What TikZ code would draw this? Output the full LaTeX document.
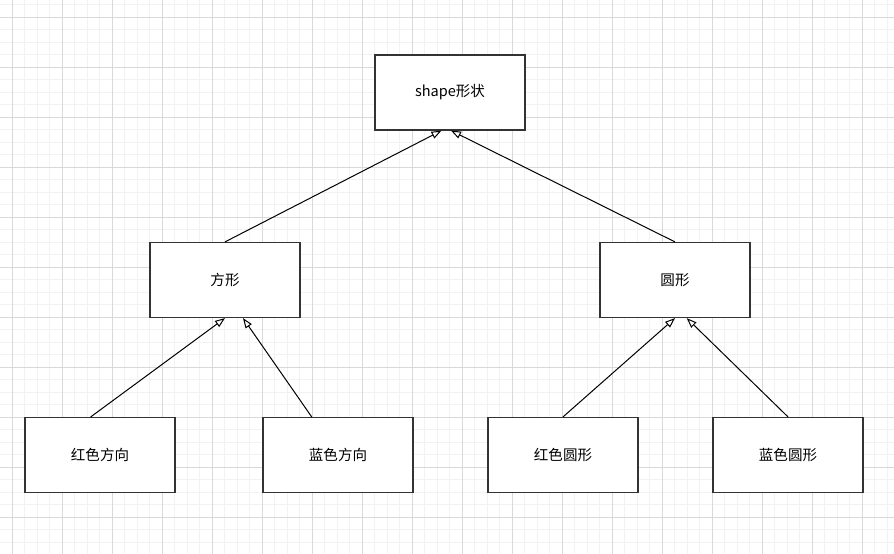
\documentclass[tikz,border=0pt]{standalone}
\usepackage{fontspec}
\setmainfont{Noto Sans CJK SC}
\usepackage{tikz}
\usetikzlibrary{arrows.meta, calc}
\definecolor{gridminor}{HTML}{F2F2F2}
\definecolor{gridmajor}{HTML}{D9D9D9}
\definecolor{boxline}{HTML}{333333}

\tikzset{
  cls/.style={draw=boxline, line width=0.9pt, fill=white, minimum width=112.5pt, minimum height=56.25pt, inner sep=0pt},
  inherit/.style={-{Triangle[open, length=7.5pt, width=5.5pt]}, line width=0.75pt}
}

\begin{document}
\begin{tikzpicture}[x=0.75pt, y=-0.75pt, font=\fontsize{10.9pt}{13pt}\selectfont]
  \useasboundingbox (0,0) rectangle (894,554);
  \fill[white] (0,0) rectangle (894,554);

  % grid
  \foreach \i in {0,...,72} {
    \draw[gridminor, line width=0.75pt] (\i*12.5-0.2,0) -- (\i*12.5-0.2,554);
  }
  \foreach \i in {0,...,44} {
    \draw[gridminor, line width=0.75pt] (0,\i*12.5+4.8) -- (894,\i*12.5+4.8);
  }
  \foreach \i in {0,...,17} {
    \draw[gridmajor, line width=0.75pt] (\i*50+12.3,0) -- (\i*50+12.3,554);
  }
  \foreach \i in {0,...,10} {
    \draw[gridmajor, line width=0.75pt] (0,\i*50+17.3) -- (894,\i*50+17.3);
  }

  % classes
  \node[cls] (shape) at (450,92.5) {shape形状};
  \node[cls] (square) at (225,280) {方形};
  \node[cls] (circle) at (675,280) {圆形};
  \node[cls] (redsq) at (100,455) {红色方向};
  \node[cls] (bluesq) at (338,455) {蓝色方向};
  \node[cls] (redci) at (563,455) {红色圆形};
  \node[cls] (blueci) at (788,455) {蓝色圆形};

  % inheritance
  \draw[inherit] (square.north) -- ($(shape.south)+(-8.5,0)$);
  \draw[inherit] (circle.north) -- ($(shape.south)+(1,0)$);
  \draw[inherit] ($(redsq.north)+(-9.3,0)$) -- (square.south);
  \draw[inherit] ($(bluesq.north)+(-26.3,0)$) -- ($(square.south)+(18,0)$);
  \draw[inherit] (redci.north) -- (circle.south);
  \draw[inherit] (blueci.north) -- ($(circle.south)+(11.7,0)$);
\end{tikzpicture}
\end{document}
